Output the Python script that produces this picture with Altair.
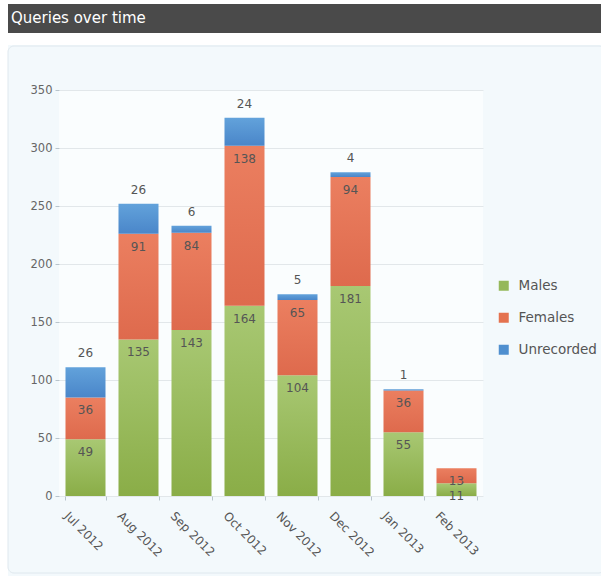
import altair as alt
import pandas as pd

months = ["Jul 2012", "Aug 2012", "Sep 2012", "Oct 2012",
          "Nov 2012", "Dec 2012", "Jan 2013", "Feb 2013"]
series_names = ["Males", "Females", "Unrecorded"]
males = [49, 135, 143, 164, 104, 181, 55, 11]
females = [36, 91, 84, 138, 65, 94, 36, 13]
unrecorded = [26, 26, 6, 24, 5, 4, 1, 0]
y_ticks = [0, 50, 100, 150, 200, 250, 300, 350]
title_text = "Queries over time"

rows = []
for i, m in enumerate(months):
    for k, (s, vals) in enumerate(zip(series_names, [males, females, unrecorded])):
        rows.append({"month": m, "series": s, "order": k, "value": vals[i]})
df = pd.DataFrame(rows)
one = pd.DataFrame({"d": [0]})

FONT = "DejaVu Sans"


def grad(top, bottom):
    return alt.Gradient(
        gradient="linear",
        stops=[alt.GradientStop(color=top, offset=0),
               alt.GradientStop(color=bottom, offset=1)],
        x1=0, x2=0, y1=0, y2=1,
    )


fills = {
    "Males": grad("#a8c873", "#8aad47"),
    "Females": grad("#eb7f60", "#de6a4d"),
    "Unrecorded": grad("#62a2db", "#4a86c9"),
}
legend_colors = ["#95b85a", "#e4724f", "#4f8fcf"]

x = alt.X(
    "month:N", sort=months, title=None,
    scale=alt.Scale(paddingInner=0.245, paddingOuter=0.1225),
    axis=alt.Axis(labelAngle=45, labelAlign="left", labelBaseline="top",
                  labelOffset=-16, labelPadding=10, labelFontSize=12,
                  labelColor="#555555", labelFont=FONT, tickBand="extent",
                  tickSize=4, tickColor="#b8c4cc", domain=False, grid=False),
)
y = alt.Y(
    "y1:Q", title=None,
    scale=alt.Scale(domain=[0, 350], nice=False),
    axis=alt.Axis(values=y_ticks, labelFontSize=11.5, labelColor="#666666",
                  labelFont=FONT, labelPadding=3, tickSize=4,
                  tickColor="#b8c4cc", domain=False, grid=True,
                  gridColor="#e2e7ea"),
)

stacked = alt.Chart(df).transform_stack(
    stack="value", as_=["y0", "y1"], groupby=["month"],
    sort=[alt.SortField("order", order="ascending")],
)

# decorations (page background / header bar)
top_white = alt.Chart(one).mark_rect(color="white").encode(
    x=alt.value(-59), x2=alt.value(542), y=alt.value(-90), y2=alt.value(-45))
left_white = alt.Chart(one).mark_rect(color="white").encode(
    x=alt.value(-59), x2=alt.value(-51), y=alt.value(-90), y2=alt.value(486))
panel_border = alt.Chart(one).mark_rect(
    fill="#f3f9fc", fillOpacity=0, stroke="#dfe8ee", strokeWidth=1,
    cornerRadius=6).encode(
    x=alt.value(-51), x2=alt.value(546), y=alt.value(-44), y2=alt.value(483))
header = alt.Chart(one).mark_rect(color="#4a4a4a").encode(
    x=alt.value(-51), x2=alt.value(542), y=alt.value(-86), y2=alt.value(-57))
header_text = alt.Chart(one).mark_text(
    text=title_text, color="white", font=FONT, fontSize=15, align="left",
    baseline="middle").encode(x=alt.value(-48), y=alt.value(-72))

bar_layers = []
for s in series_names:
    bar_layers.append(
        stacked.transform_filter(alt.datum.series == s)
        .mark_bar(fill=fills[s], strokeWidth=0)
        .encode(x=x, y=y, y2="y0:Q")
    )

inner_text = stacked.transform_filter(
    "datum.series != 'Unrecorded'").mark_text(
    dy=13, font=FONT, fontSize=12, color="#555555", baseline="middle"
).encode(x=x, y=y, text="value:Q")

top_text = stacked.transform_filter(
    "datum.series == 'Unrecorded' && datum.value > 0").mark_text(
    dy=-14, font=FONT, fontSize=12, color="#555555", baseline="middle"
).encode(x=x, y=y, text="value:Q")

legend_pts = stacked.mark_point(filled=True, opacity=0, shape="square").encode(
    x=x, y=y,
    color=alt.Color(
        "series:N",
        scale=alt.Scale(domain=series_names, range=legend_colors),
        sort=series_names,
        legend=alt.Legend(title=None, orient="none", legendX=438, legendY=189,
                          symbolType="square", symbolSize=100,
                          symbolOpacity=1, symbolStrokeWidth=0,
                          labelFont=FONT, labelFontSize=13.5,
                          labelColor="#555555", rowPadding=17,
                          labelOffset=8),
    ),
)

chart = alt.layer(
    top_white, left_white, panel_border, header, header_text,
    *bar_layers, inner_text, top_text, legend_pts,
).properties(
    width=424, height=406,
    padding={"left": 59, "top": 90, "right": 118, "bottom": 80},
    autosize="none",
    background="#f3f9fc",
).configure_view(fill="#fafdfe", stroke=None)

chart.save("out.html", embed_options={"renderer": "svg", "actions": False})
